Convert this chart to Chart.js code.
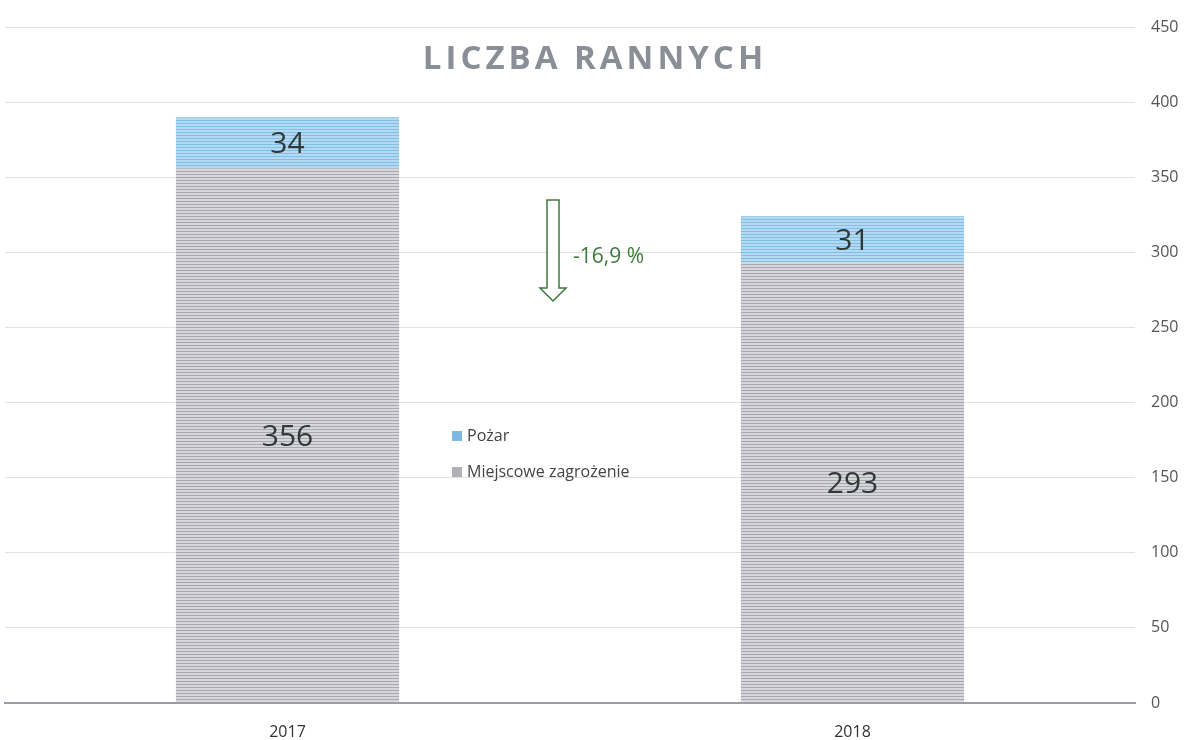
<!DOCTYPE html>
<html>
<head>
<meta charset="utf-8">
<script src="https://cdn.jsdelivr.net/npm/chart.js@4"></script>
<style>
  html, body { margin: 0; padding: 0; background: #fff; }
  #wrap { width: 1188px; height: 740px; }
</style>
</head>
<body>
<div id="wrap"><canvas id="c" width="1188" height="740"></canvas></div>
<script>
const years = ["2017", "2018"];
const pozar = [34, 31];
const miejscowe = [356, 293];
const changeLabel = "-16,9 %";
const titleText = "LICZBA RANNYCH";

// striped fill like the scanned bars
function stripes(light, dark) {
  const c = document.createElement("canvas");
  c.width = 4; c.height = 3;
  const g = c.getContext("2d");
  g.fillStyle = light; g.fillRect(0, 0, 4, 3);
  g.fillStyle = dark; g.fillRect(0, 0, 4, 1);
  return g.createPattern(c, "repeat");
}
const ctx = document.getElementById("c").getContext("2d");
const bluePat = stripes("#b3daf2", "#82bde3");
const grayPat = stripes("#d6d6dc", "#a8a8b0");

const overlay = {
  id: "overlay",
  afterDatasetsDraw(chart) {
    const g = chart.ctx;
    // segment labels
    g.save();
    g.font = "30px 'Open Sans'";
    g.fillStyle = "#2f3a36";
    g.textAlign = "center";
    g.textBaseline = "middle";
    chart.data.datasets.forEach((ds, di) => {
      const meta = chart.getDatasetMeta(di);
      meta.data.forEach((bar, i) => {
        const mid = (bar.y + bar.base) / 2;
        g.fillText(String(ds.data[i]), bar.x, mid + 2);
      });
    });
    g.restore();
  },
  afterDraw(chart) {
    const g = chart.ctx;
    // title
    g.save();
    g.font = "bold 33px 'Open Sans'";
    g.fillStyle = "#8a8f97";
    g.textAlign = "center";
    g.textBaseline = "middle";
    if ("letterSpacing" in g) g.letterSpacing = "4px";
    g.fillText(titleText, 595, 60);
    g.restore();

    // arrow
    g.save();
    g.strokeStyle = "#3d7a3a";
    g.lineWidth = 1.5;
    g.fillStyle = "#fff";
    g.beginPath();
    g.moveTo(547, 200); g.lineTo(559, 200); g.lineTo(559, 288);
    g.lineTo(566, 288); g.lineTo(553, 301); g.lineTo(540, 288);
    g.lineTo(547, 288); g.closePath();
    g.fill(); g.stroke();
    g.font = "21px 'Open Sans'";
    g.fillStyle = "#3d7a3a";
    g.textBaseline = "middle";
    g.fillText(changeLabel, 573, 257);
    g.restore();

    // legend
    g.save();
    g.font = "16px 'Open Sans'";
    g.textBaseline = "middle";
    const items = [chart.data.datasets[1], chart.data.datasets[0]];
    items.forEach((ds, k) => {
      const ly = 436 + k * 36;
      g.fillStyle = ds.legendColor;
      g.fillRect(452, ly - 5, 10, 10);
      g.fillStyle = "#444";
      g.fillText(ds.label, 467, ly);
    });
    g.restore();
  }
};

new Chart(ctx, {
  type: "bar",
  data: {
    labels: years,
    datasets: [
      { label: "Miejscowe zagrożenie", data: miejscowe, backgroundColor: grayPat, legendColor: "#b0b0b8" },
      { label: "Pożar", data: pozar, backgroundColor: bluePat, legendColor: "#7fb8e0" }
    ]
  },
  options: {
    responsive: false,
    animation: false,
    layout: { padding: { top: 27, left: 5, right: 0, bottom: 0 } },
    plugins: { legend: { display: false }, tooltip: { enabled: false } },
    datasets: { bar: { categoryPercentage: 1, barPercentage: 0.395 } },
    scales: {
      x: {
        stacked: true,
        grid: { display: false },
        border: { color: "#9a9ca3", width: 2 },
        ticks: { font: { family: "Open Sans", size: 16 }, color: "#333", padding: 12 },
        afterFit(s) { s.height = 37; }
      },
      y: {
        stacked: true,
        position: "right",
        min: 0, max: 450,
        ticks: { stepSize: 50, font: { family: "Open Sans", size: 16 }, color: "#555", padding: 16 },
        grid: { color: "#e2e2e6", drawTicks: false },
        border: { display: false },
        afterFit(s) { s.width = 53; }
      }
    }
  },
  plugins: [overlay]
});
</script>
</body>
</html>
